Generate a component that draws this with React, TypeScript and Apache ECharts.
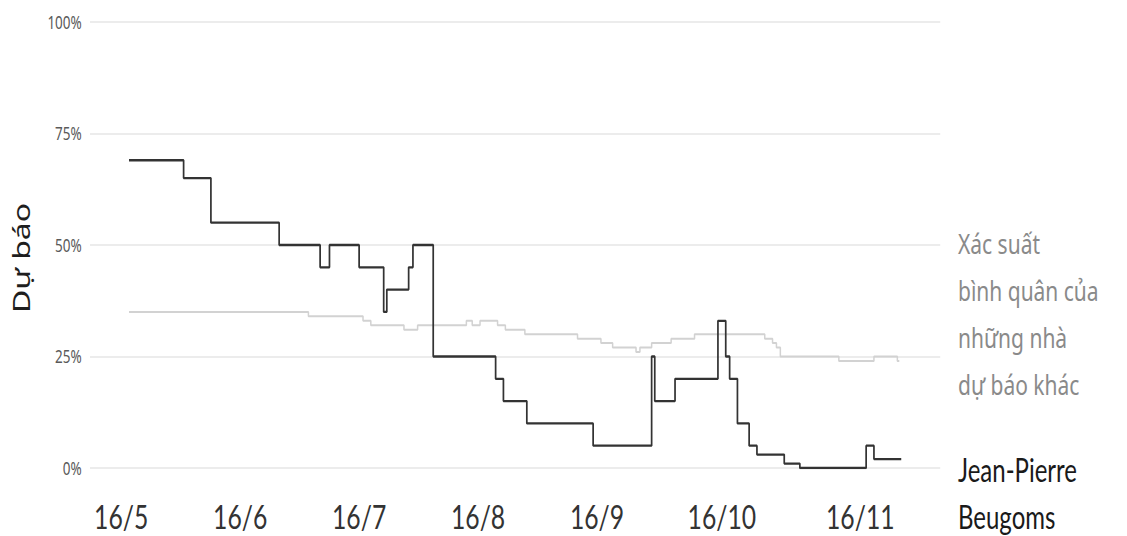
import React, { useEffect, useRef } from 'react';
import * as echarts from 'echarts';

// x values are days counted from the "16/5" tick
const tickDays = [0, 30.5, 61, 91.5, 122, 154, 189.5];
const tickLabels = ['16/5', '16/6', '16/7', '16/8', '16/9', '16/10', '16/11'];

const beugomsDays = [2, 16, 23, 40.5, 51, 53.4, 61, 67.3, 68.1, 73.7, 74.8, 80, 96, 98, 104, 121, 136, 136.8, 142, 153, 155, 156, 158, 161, 163, 170, 174, 191, 193, 200];
const beugomsValues = [69, 65, 55, 50, 45, 50, 45, 35, 40, 45, 50, 25, 20, 15, 10, 5, 25, 15, 20, 33, 25, 20, 10, 5, 3, 1, 0, 5, 2, 2];

const averageDays = [2, 48, 62, 64, 72.5, 76, 88.5, 90, 92, 96.5, 98.5, 103.5, 117, 123, 126, 132, 133, 136, 141, 147, 165, 167, 168, 169, 184, 193, 199, 199.5];
const averageValues = [35, 34, 33, 32, 31, 32, 33, 32, 33, 32, 31, 30, 29, 28, 27, 26, 27, 28, 29, 30, 29, 28, 27, 25, 24, 25, 24, 24];

const yAxisTitle = 'Dự báo';
const averageLabel = ['Xác suất', 'bình quân của', 'những nhà', 'dự báo khác'];
const beugomsLabel = ['Jean-Pierre', 'Beugoms'];

const W = 1127;
const H = 536;
const K = 0.75; // horizontal squeeze of the original artwork
const INNER_W = W / K;

const FONT = "'Noto Sans', 'DejaVu Sans', sans-serif";
const LATO = "Lato, 'Noto Sans', sans-serif";
const NARROW = "'Liberation Sans Narrow', 'Noto Sans', sans-serif";

export default function App() {
  const ref = useRef<HTMLDivElement>(null);

  useEffect(() => {
    document.body.style.margin = '0';
    if (!ref.current) return;
    const chart = echarts.init(ref.current, undefined, { renderer: 'svg' });
    const toPairs = (xs: number[], ys: number[]) => xs.map((x, i) => [x, ys[i]]);

    const averageTexts = averageLabel.map((t, i) => ({
      type: 'text',
      x: 958 / K,
      y: 243 + i * 47,
      style: {
        text: t,
        fontFamily: FONT,
        fontSize: 28,
        lineHeight: 30,
        fill: '#8a8a8a',
        align: 'left',
        verticalAlign: 'middle',
      },
    }));
    const beugomsTexts = beugomsLabel.map((t, i) => ({
      type: 'text',
      x: 958 / K,
      y: 470 + i * 47,
      style: {
        text: t,
        fontFamily: LATO,
        fontSize: 32,
        lineHeight: 30,
        fill: '#1a1a1a',
        align: 'left',
        verticalAlign: 'middle',
      },
    }));

    chart.setOption({
      animation: false,
      backgroundColor: '#ffffff',
      grid: { left: 120, right: INNER_W - 940 / K, top: 22, bottom: 68, containLabel: false },
      xAxis: {
        type: 'value',
        min: -8,
        max: 210,
        axisLine: { show: false },
        axisTick: { show: false },
        splitLine: { show: false },
        axisLabel: {
          customValues: tickDays,
          formatter: (v: number) => {
            const i = tickDays.indexOf(v);
            return i >= 0 ? tickLabels[i] : '';
          },
          margin: 35,
          lineHeight: 26,
          fontFamily: LATO,
          fontSize: 33,
          color: '#333333',
        },
      },
      yAxis: {
        type: 'value',
        min: 0,
        max: 100,
        interval: 25,
        name: yAxisTitle,
        nameLocation: 'middle',
        nameRotate: 90,
        nameGap: 77,
        nameTextStyle: {
          fontFamily: FONT,
          fontSize: 32,
          color: '#1e1e1e',
          padding: [0, 26, 0, 0],
        },
        axisLine: { show: false },
        axisTick: { show: false },
        splitLine: { lineStyle: { color: '#e6e6e6', width: 1.5 } },
        axisLabel: {
          formatter: '{value}%',
          margin: 11,
          fontFamily: NARROW,
          fontSize: 18,
          color: '#5a5a5a',
        },
      },
      series: [
        {
          name: 'average',
          type: 'line',
          step: 'end',
          symbol: 'none',
          data: toPairs(averageDays, averageValues),
          lineStyle: { color: '#d2d2d2', width: 2 },
          z: 2,
        },
        {
          name: 'beugoms',
          type: 'line',
          step: 'end',
          symbol: 'none',
          data: toPairs(beugomsDays, beugomsValues),
          lineStyle: { color: '#333333', width: 2.3 },
          z: 3,
        },
      ],
      graphic: [...averageTexts, ...beugomsTexts],
    });
    return () => chart.dispose();
  }, []);

  return (
    <div style={{ position: 'fixed', left: 0, top: 0, width: W, height: H, overflow: 'hidden', background: '#fff' }}>
      <div
        ref={ref}
        style={{ width: INNER_W, height: H, transform: `scaleX(${K})`, transformOrigin: '0 0' }}
      />
    </div>
  );
}
